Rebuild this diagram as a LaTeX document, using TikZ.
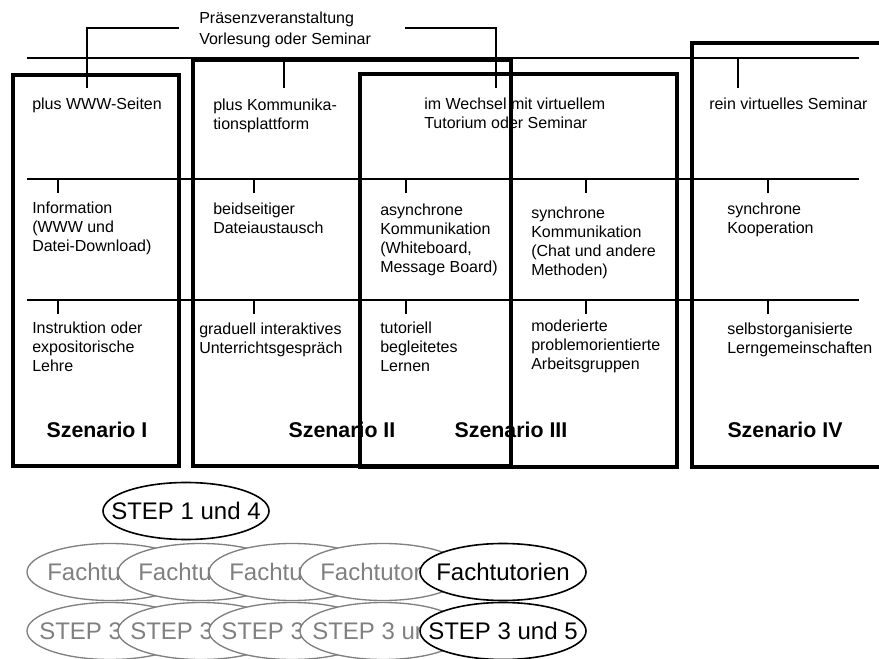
\documentclass[tikz,border=0pt]{standalone}
\usepackage{fontspec}
\setmainfont{Liberation Sans}
\usetikzlibrary{shapes.geometric}
\begin{document}
\begin{tikzpicture}[x=0.75pt,y=-0.75pt,
  thinline/.style={line width=1pt,black},
  thickbox/.style={line width=3pt,black},
  celltext/.style={anchor=north west,inner sep=0pt,align=left,font=\fontsize{12}{14.25}\selectfont},
  scen/.style={inner sep=0pt,font=\fontsize{16}{19}\selectfont\bfseries},
  oval/.style={ellipse,inner sep=0pt,minimum width={166*0.75pt},minimum height={57*0.75pt},fill=white,font=\fontsize{18}{21}\selectfont},
  blackoval/.style={oval,draw=black,line width=1.2pt,text=black},
  grayoval/.style={oval,draw=gray,line width=1pt,text=gray}]
\useasboundingbox (0,0) rectangle (879,659);

% title
\node[celltext] (title) at (199,12) {Präsenzveranstaltung\\[1pt]Vorlesung oder Seminar};
\coordinate (tl) at (179,28);
\coordinate (tr) at (405,28);
\draw[thinline] (tl) -- (87,28) -- (87,88);
\draw[thinline] (tr) -- (496,28) -- (496,88);

% horizontal rows
\foreach \y in {58,179,300} {
  \draw[thinline] (27,\y) -- (859,\y);
}
% ticks row 1
\draw[thinline] (284,58) -- (284,88);
\draw[thinline] (738,58) -- (738,88);
% ticks rows 2 and 3
\foreach \x in {58,254,406,586,768} {
  \draw[thinline] (\x,179) -- (\x,193);
  \draw[thinline] (\x,300) -- (\x,314);
}

% row 1 texts
\node[celltext] (a1) at (32,98) {plus WWW-Seiten};
\node[celltext] (b1) at (213,99) {plus Kommunika-\\tionsplattform};
\node[celltext] (c1) at (424,98) {im Wechsel mit virtuellem\\Tutorium oder Seminar};
\node[celltext] (e1) at (709,98) {rein virtuelles Seminar};

% row 2 texts
\node[celltext] (a2) at (32,202) {Information\\(WWW und\\Datei-Download)};
\node[celltext] (b2) at (213,203) {beidseitiger\\Dateiaustausch};
\node[celltext] (c2) at (380,204) {asynchrone\\Kommunikation\\(Whiteboard,\\Message Board)};
\node[celltext] (d2) at (531,207) {synchrone\\Kommunikation\\(Chat und andere\\Methoden)};
\node[celltext] (e2) at (727,203) {synchrone\\Kooperation};

% row 3 texts
\node[celltext] (a3) at (32,322) {Instruktion oder\\expositorische\\Lehre};
\node[celltext] (b3) at (199,323) {graduell interaktives\\Unterrichtsgespräch};
\node[celltext] (c3) at (380,322) {tutoriell\\begleitetes\\Lernen};
\node[celltext] (d3) at (531,320) {moderierte\\problemorientierte\\Arbeitsgruppen};
\node[celltext] (e3) at (727,323) {selbstorganisierte\\Lerngemeinschaften};

% scenario labels
\node[scen] (s1) at (97,430) {Szenario I};
\node[scen] (s2) at (342,430) {Szenario II};
\node[scen] (s3) at (511,430) {Szenario III};
\node[scen] (s4) at (785,430) {Szenario IV};

% scenario boxes
\draw[thickbox] (13,75) rectangle (179,466);
\draw[thickbox] (193,60) rectangle (511,466);
\draw[thickbox] (360,74) rectangle (677,467);
\draw[thickbox] (879,43) -- (692,43) -- (692,467) -- (879,467);

% ellipses
\node[blackoval] (st14) at (186,511) {\makebox[0pt][c]{STEP 1 und 4}};
\foreach \c [count=\i] in {110,201,292,383} {
  \node[grayoval] (f\i) at (\c,572) {\makebox[0pt][c]{\hspace{6pt}Fachtutorien}};
}
\node[blackoval] (f5) at (503,572) {\makebox[0pt][c]{Fachtutorien}};
\foreach \c [count=\i] in {110,201,292,383} {
  \node[grayoval] (s\i x) at (\c,631) {\makebox[0pt][c]{\hspace{6pt}STEP 3 und 5}};
}
\node[blackoval] (st35) at (503,631) {\makebox[0pt][c]{STEP 3 und 5}};
\end{tikzpicture}
\end{document}
